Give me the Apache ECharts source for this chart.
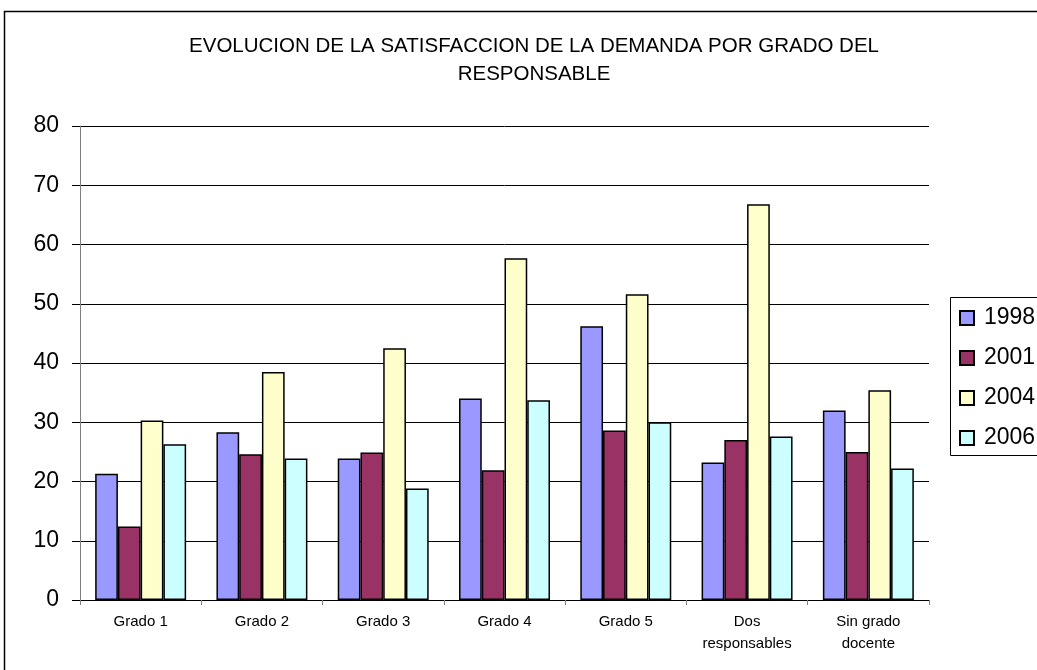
<!DOCTYPE html>
<html>
<head>
<meta charset="utf-8">
<script src="https://cdn.jsdelivr.net/npm/echarts@6/dist/echarts.min.js"></script>
<style>
  html, body { margin: 0; padding: 0; background: #fff; }
  #myChart { width: 1037px; height: 670px; }
</style>
</head>
<body>
<div id="myChart"></div>
<script>
// categorias y valores
var categorias = ['Grado 1', 'Grado 2', 'Grado 3', 'Grado 4', 'Grado 5', 'Dos\nresponsables', 'Sin grado\ndocente'];
var anios = ['1998', '2001', '2004', '2006'];
var v1998 = [21.3, 28.3, 23.9, 34.0, 46.2, 23.2, 32.0];
var v2001 = [12.4, 24.6, 24.9, 21.9, 28.6, 27.0, 25.0];
var v2004 = [30.3, 38.5, 42.5, 57.7, 51.6, 66.8, 35.4];
var v2006 = [26.3, 23.9, 18.8, 33.7, 30.0, 27.6, 22.2];
var colores = ['#9999ff', '#993366', '#ffffcc', '#ccffff'];

var myChart = echarts.init(document.getElementById('myChart'));
var fuente = 'Liberation Sans, Arial, sans-serif';

var option = {
    backgroundColor: '#fff',
    animation: false,
    textStyle: { fontFamily: fuente },
    title: {
        text: 'EVOLUCION DE LA SATISFACCION DE LA DEMANDA POR GRADO DEL\nRESPONSABLE',
        left: 534,
        textAlign: 'center',
        top: 32,
        padding: 0,
        textStyle: { fontSize: 20.5, fontWeight: 'normal', color: '#000', lineHeight: 28, fontFamily: fuente }
    },
    legend: {
        data: anios,
        orient: 'vertical',
        left: 959,
        top: 305,
        padding: 0,
        itemWidth: 14,
        itemHeight: 14,
        itemGap: 14,
        textStyle: { fontSize: 23, color: '#000', lineHeight: 26, padding: [0, 0, 0, 5] },
        icon: 'rect'
    },
    graphic: [
        { type: 'rect', shape: { x: 4.5, y: 11.5, width: 1040, height: 670 }, style: { fill: 'none', stroke: '#000', lineWidth: 1.5 }, silent: true },
        { type: 'rect', shape: { x: 950.5, y: 297.5, width: 120, height: 158 }, style: { fill: 'none', stroke: '#000', lineWidth: 1 }, silent: true }
    ],
    grid: { left: 80, right: 108, top: 126, bottom: 70 },
    xAxis: {
        type: 'category',
        data: categorias,
        axisLine: { lineStyle: { color: '#000', width: 1 } },
        axisTick: { show: true, length: 5, lineStyle: { color: '#808080' } },
        axisLabel: { fontSize: 15, color: '#000', margin: 11, lineHeight: 22 }
    },
    yAxis: {
        type: 'value',
        min: 0,
        max: 80,
        interval: 10,
        axisLine: { show: true, lineStyle: { color: '#808080' } },
        axisTick: { show: true, length: 8, lineStyle: { color: '#000' } },
        axisLabel: { fontSize: 23, color: '#000', margin: 21 },
        splitLine: { lineStyle: { color: '#000', width: 1 } }
    },
    series: [
        { name: '1998', type: 'bar', data: v1998 },
        { name: '2001', type: 'bar', data: v2001 },
        { name: '2004', type: 'bar', data: v2004 },
        { name: '2006', type: 'bar', data: v2006 }
    ]
};

option.series.forEach(function (s, i) {
    s.barGap = '0%';
    s.barCategoryGap = '25%';
    s.itemStyle = { color: colores[i], borderColor: '#000', borderWidth: 1.5 };
});

myChart.setOption(option);
</script>
</body>
</html>
